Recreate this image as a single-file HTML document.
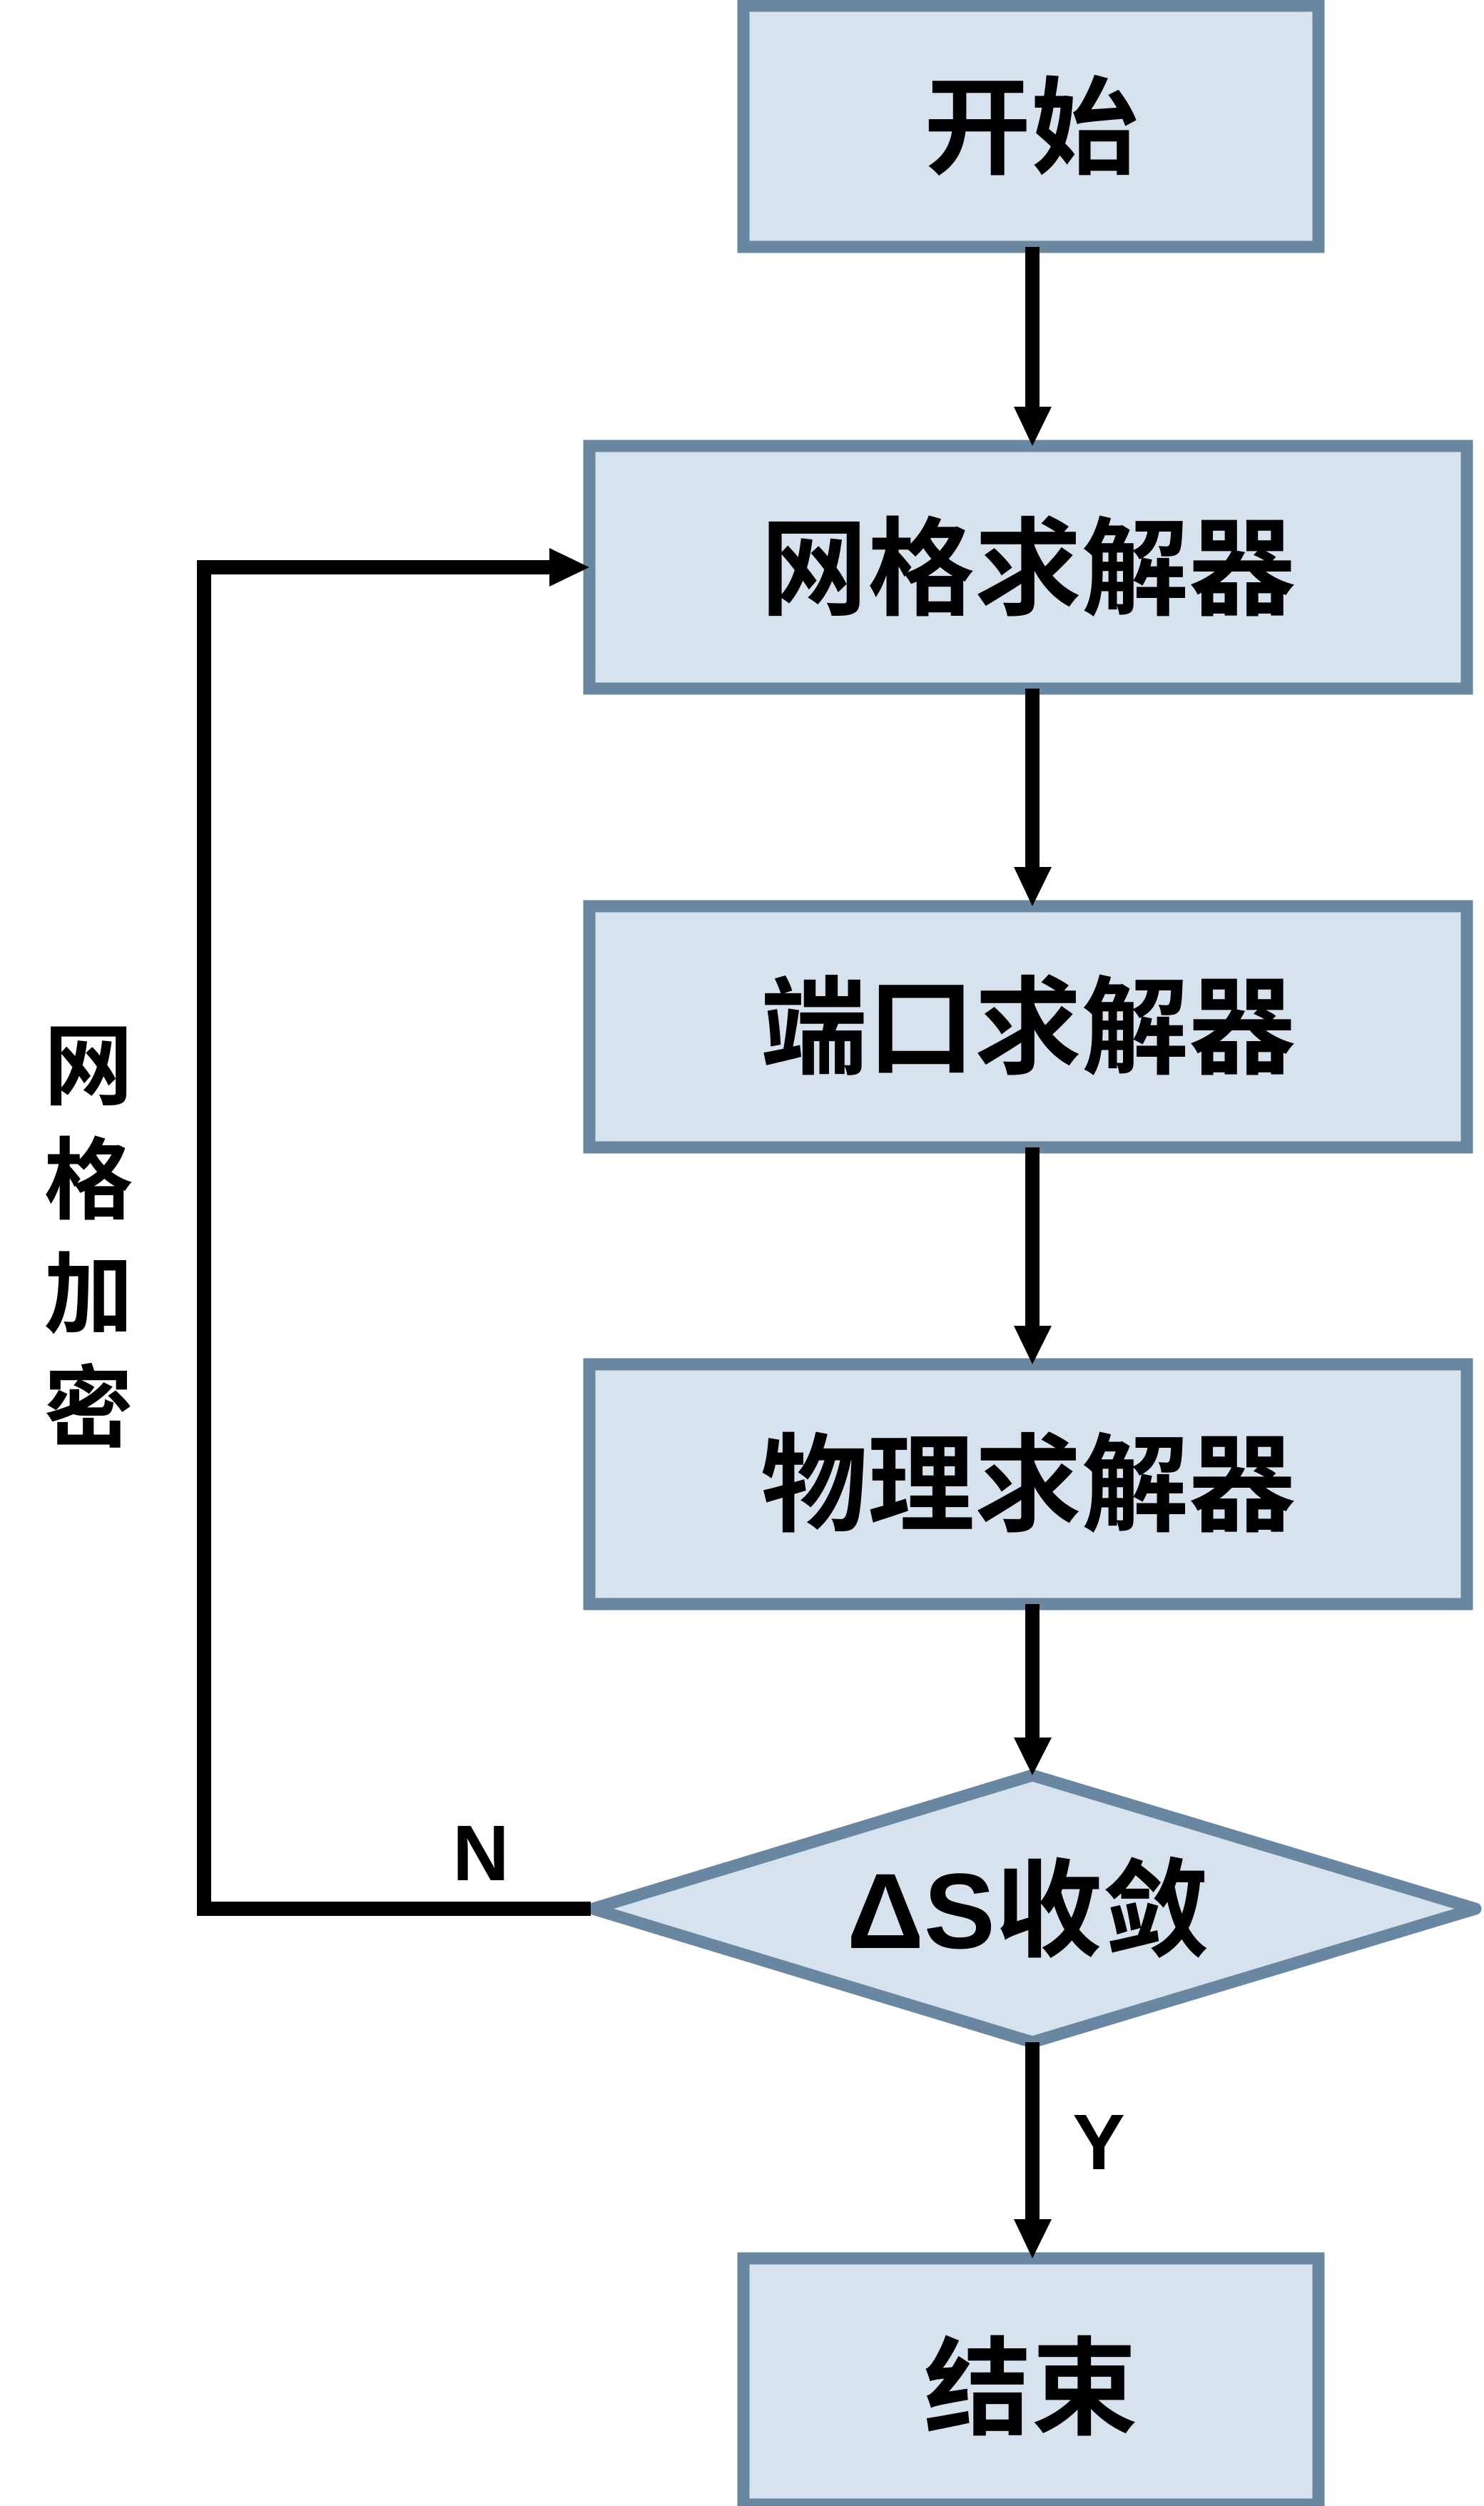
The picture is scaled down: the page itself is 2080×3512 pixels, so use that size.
<!DOCTYPE html>
<html><head><meta charset="utf-8"><style>
html,body{margin:0;padding:0;background:#fff;width:2080px;height:3512px;overflow:hidden}
svg{display:block}
text{font-family:"Liberation Sans","Noto Sans CJK SC",sans-serif;font-weight:bold;fill:#000}
</style></head><body>
<svg width="2080" height="3512" viewBox="0 0 2080 3512" xmlns="http://www.w3.org/2000/svg">
<g fill="#d6e2ee" stroke="#6a87a1" stroke-width="17">
<rect x="1042" y="8" width="806" height="338"/>
<rect x="826" y="625" width="1230" height="340"/>
<rect x="826" y="1270" width="1230" height="338"/>
<rect x="826" y="1912" width="1230" height="336"/>
<polygon points="831,2675 1447,2488 2068,2675 1447,2862" stroke-linejoin="round"/>
<rect x="1042" y="3165" width="806" height="345"/>
</g>
<g stroke="#000" stroke-width="20" fill="none">
<line x1="1447" y1="346" x2="1447" y2="580"/>
<line x1="1447" y1="965" x2="1447" y2="1225"/>
<line x1="1447" y1="1608" x2="1447" y2="1868"/>
<line x1="1447" y1="2248" x2="1447" y2="2445"/>
<line x1="1447" y1="2862" x2="1447" y2="3120"/>
<polyline points="828,2675 286,2675 286,795 780,795"/>
</g>
<g fill="#000">
<polygon points="1421,570 1474,570 1447,625"/>
<polygon points="1421,1215 1474,1215 1447,1270"/>
<polygon points="1421,1858 1474,1858 1447,1912"/>
<polygon points="1421,2435 1474,2435 1447,2488"/>
<polygon points="1421,3110 1474,3110 1447,3165"/>
<polygon points="770,768 770,822 826,795"/>
</g>
<g font-size="150" text-anchor="middle">
<text x="1445" y="232">开始</text>
<text x="1441" y="850">网格求解器</text>
<text x="1441" y="1493">端口求解器</text>
<text x="1441" y="2134">物理求解器</text>
<text x="1441" y="2730">ΔS收敛</text>
<text x="1445" y="3400">结束</text>
</g>
<g font-size="125" text-anchor="middle">
<text x="124" y="1538">网</text>
<text x="124" y="1698">格</text>
<text x="124" y="1858">加</text>
<text x="124" y="2018">密</text>
</g>
<text x="674" y="2635" font-size="110" text-anchor="middle">N</text>
<text x="1540" y="3040" font-size="110" text-anchor="middle">Y</text>
</svg>
</body></html>
